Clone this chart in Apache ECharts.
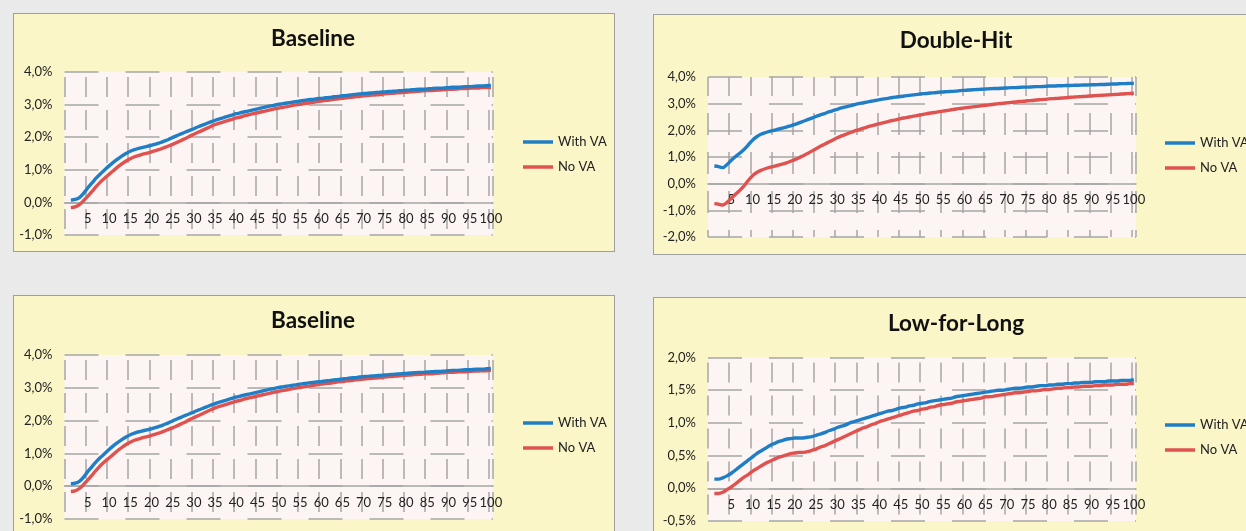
<!DOCTYPE html>
<html>
<head>
<meta charset="utf-8">
<script src="https://cdn.jsdelivr.net/npm/echarts/dist/echarts.min.js"></script>
<style>
html, body { margin:0; padding:0; width:1246px; height:531px; overflow:hidden; background:#EAEAEA; }
.panel { position:absolute; background:#FAF6C8; border:1px solid #9E9E9E; box-sizing:border-box; }
#chart { position:absolute; left:0; top:0; width:1246px; height:531px; }
</style>
</head>
<body>
<div class="panel" style="left:13px;top:13px;width:602px;height:239px"></div>
<div class="panel" style="left:653px;top:14px;width:640px;height:241px"></div>
<div class="panel" style="left:13px;top:295px;width:602px;height:260px"></div>
<div class="panel" style="left:653px;top:297px;width:640px;height:260px"></div>
<div id="chart"></div>
<script>
// ---- categories (projection years; year 0 has no value) ----
const categories = Array.from({length: 101}, (_, i) => String(i));
const seriesNames = ['With VA', 'No VA'];
const panelTitles = ['Baseline', 'Double-Hit', 'Baseline', 'Low-for-Long'];

// ---- Baseline (values in %) years 1..100 ----
const baselineWithVA = [
0.07,0.09,0.15,0.28,0.45,0.60,0.75,0.88,1.00,1.12,
1.23,1.33,1.42,1.50,1.57,1.62,1.66,1.69,1.72,1.75,
1.79,1.83,1.88,1.93,1.99,2.05,2.10,2.16,2.21,2.26,
2.32,2.37,2.42,2.47,2.52,2.56,2.60,2.64,2.68,2.72,
2.75,2.78,2.81,2.84,2.87,2.90,2.93,2.96,2.98,3.01,
3.03,3.05,3.07,3.09,3.11,3.13,3.15,3.16,3.18,3.19,
3.21,3.22,3.24,3.25,3.27,3.28,3.30,3.31,3.33,3.34,
3.35,3.36,3.37,3.38,3.39,3.40,3.41,3.42,3.43,3.44,
3.45,3.46,3.47,3.47,3.48,3.49,3.50,3.50,3.51,3.52,
3.53,3.53,3.54,3.55,3.55,3.56,3.57,3.57,3.58,3.59];
const baselineNoVA = [
-0.16,-0.14,-0.07,0.05,0.19,0.34,0.49,0.63,0.75,0.86,
0.97,1.08,1.18,1.27,1.34,1.40,1.44,1.48,1.51,1.55,
1.59,1.63,1.68,1.73,1.78,1.84,1.90,1.96,2.03,2.09,
2.15,2.21,2.27,2.33,2.39,2.43,2.47,2.51,2.55,2.59,
2.62,2.66,2.69,2.72,2.75,2.78,2.81,2.84,2.87,2.89,
2.92,2.94,2.97,2.99,3.01,3.03,3.05,3.07,3.09,3.11,
3.13,3.14,3.16,3.18,3.19,3.21,3.22,3.24,3.25,3.27,
3.28,3.29,3.30,3.31,3.33,3.34,3.35,3.36,3.37,3.38,
3.39,3.40,3.41,3.42,3.43,3.43,3.44,3.45,3.46,3.47,
3.47,3.48,3.49,3.49,3.50,3.51,3.51,3.52,3.52,3.53];

// ---- Double-Hit ----
const doubleHitWithVA = [
0.66,0.64,0.60,0.72,0.88,1.02,1.14,1.28,1.45,1.63,
1.76,1.85,1.91,1.96,2.00,2.04,2.08,2.12,2.17,2.22,
2.28,2.34,2.40,2.46,2.52,2.58,2.63,2.69,2.74,2.79,
2.84,2.88,2.92,2.96,3.00,3.03,3.06,3.09,3.12,3.15,
3.18,3.20,3.23,3.25,3.27,3.29,3.31,3.33,3.35,3.37,
3.38,3.40,3.41,3.43,3.44,3.45,3.46,3.47,3.49,3.50,
3.51,3.52,3.53,3.54,3.55,3.56,3.57,3.57,3.58,3.59,
3.60,3.60,3.61,3.62,3.62,3.63,3.64,3.64,3.65,3.66,
3.66,3.67,3.67,3.68,3.68,3.69,3.69,3.70,3.70,3.71,
3.71,3.72,3.72,3.73,3.74,3.74,3.75,3.75,3.76,3.76];
const doubleHitNoVA = [
-0.75,-0.77,-0.80,-0.70,-0.55,-0.40,-0.25,-0.08,0.12,0.30,
0.42,0.50,0.56,0.61,0.65,0.69,0.73,0.78,0.84,0.90,
0.97,1.05,1.13,1.22,1.31,1.40,1.48,1.56,1.64,1.72,
1.79,1.85,1.91,1.97,2.02,2.07,2.12,2.17,2.21,2.25,
2.29,2.33,2.37,2.40,2.44,2.47,2.50,2.53,2.56,2.59,
2.62,2.65,2.67,2.70,2.72,2.75,2.77,2.80,2.82,2.84,
2.86,2.88,2.90,2.92,2.94,2.96,2.98,3.00,3.01,3.03,
3.05,3.06,3.08,3.09,3.11,3.12,3.14,3.15,3.16,3.18,
3.19,3.20,3.21,3.22,3.24,3.25,3.26,3.27,3.28,3.29,
3.30,3.31,3.32,3.33,3.34,3.35,3.36,3.37,3.38,3.39];

// ---- Low-for-Long ----
const lowForLongWithVA = [
0.14,0.14,0.16,0.19,0.23,0.28,0.33,0.38,0.43,0.48,
0.53,0.57,0.61,0.65,0.68,0.71,0.73,0.75,0.76,0.77,
0.77,0.77,0.78,0.79,0.81,0.83,0.85,0.88,0.90,0.93,
0.95,0.97,1.00,1.02,1.04,1.06,1.08,1.10,1.12,1.14,
1.16,1.18,1.19,1.21,1.23,1.24,1.26,1.27,1.29,1.30,
1.31,1.33,1.34,1.35,1.36,1.37,1.38,1.40,1.41,1.42,
1.43,1.44,1.45,1.46,1.47,1.48,1.49,1.50,1.50,1.51,
1.52,1.53,1.53,1.54,1.55,1.55,1.56,1.57,1.57,1.58,
1.58,1.59,1.59,1.60,1.60,1.61,1.61,1.62,1.62,1.62,
1.63,1.63,1.63,1.64,1.64,1.64,1.65,1.65,1.65,1.66];
const lowForLongNoVA = [
-0.08,-0.08,-0.06,-0.02,0.02,0.07,0.12,0.17,0.21,0.26,
0.30,0.34,0.38,0.41,0.44,0.47,0.49,0.51,0.53,0.54,
0.55,0.55,0.56,0.58,0.60,0.63,0.65,0.68,0.71,0.74,
0.77,0.80,0.83,0.86,0.89,0.92,0.94,0.97,0.99,1.02,
1.04,1.06,1.08,1.10,1.12,1.14,1.16,1.18,1.19,1.21,
1.22,1.24,1.25,1.27,1.28,1.29,1.30,1.32,1.33,1.34,
1.35,1.36,1.37,1.38,1.40,1.40,1.41,1.42,1.43,1.44,
1.45,1.46,1.46,1.47,1.48,1.49,1.49,1.50,1.51,1.51,
1.52,1.53,1.53,1.54,1.54,1.55,1.55,1.56,1.56,1.56,
1.57,1.57,1.58,1.58,1.58,1.59,1.59,1.59,1.60,1.60];

// ---- y-axis ranges per panel ----
const yMin = [-1, -2, -1, -0.5];
const yMax = [4, 4, 4, 2];
const yStep = [1, 1, 1, 0.5];
const panelData = [
  [baselineWithVA, baselineNoVA],
  [doubleHitWithVA, doubleHitNoVA],
  [baselineWithVA, baselineNoVA],
  [lowForLongWithVA, lowForLongNoVA]
];

// ---- layout / style ----
const FONT = 'Lato, "Open Sans", sans-serif';
const BLUE = '#1F7EC6', RED = '#E0524F';
const GRIDC = '#A7A7A7';
const grids = [
  {left: 64.5, top: 72,    width: 428.5, height: 163},
  {left: 708,  top: 77,    width: 428,   height: 160},
  {left: 64.5, top: 355,   width: 428.5, height: 164},
  {left: 708,  top: 357.5, width: 428,   height: 163.5}
];
// the category axis crosses the value axis at 0: shift it up from the grid bottom
const zeroOffset = grids.map((g, i) => -g.height * (0 - yMin[i]) / (yMax[i] - yMin[i]));
const titlePos = [{x: 313, y: 27}, {x: 956, y: 29}, {x: 313, y: 309}, {x: 956, y: 312}];
const legendPos = [{x: 523, y: 134}, {x: 1165, y: 135}, {x: 523, y: 415}, {x: 1165, y: 417}];
const vDash = [{type: [20, 13], off: 28}, {type: [22, 17], off: 3}, {type: [20, 13], off: 28}, {type: [20, 13], off: 28}];

const fmt = v => {
  const r = Math.round(v * 10) / 10;
  return (r === 0 ? 0 : r).toFixed(1).replace('.', ',') + '%';
};

const option = {
  animation: false,
  backgroundColor: 'transparent',
  title: panelTitles.map((t, i) => ({
    text: t, left: titlePos[i].x, top: titlePos[i].y, textAlign: 'center', padding: 0,
    textStyle: {fontFamily: FONT, fontWeight: 'bold', fontSize: 22.5, color: '#111'}
  })),
  legend: legendPos.map(p => ({
    data: seriesNames, orient: 'vertical', left: p.x, top: p.y, padding: 0,
    itemWidth: 30, itemHeight: 3.5, itemGap: 9, icon: 'rect', selectedMode: false,
    textStyle: {fontFamily: FONT, fontSize: 13, lineHeight: 16, color: '#222'}
  })),
  grid: grids.map(g => Object.assign({
    show: true, backgroundColor: '#FDF5F3', borderWidth: 0, containLabel: false, outerBoundsMode: 'none'
  }, g)),
  xAxis: grids.map((g, i) => ({
    type: 'category', gridIndex: i, data: categories, boundaryGap: true,
    position: 'bottom', offset: zeroOffset[i],
    axisLine: {show: true, onZero: false, lineStyle: {color: GRIDC, width: 1.5}},
    axisTick: {show: false},
    axisLabel: {
      interval: (idx) => idx > 0 && idx % 5 === 0,
      margin: 10, fontFamily: FONT, fontSize: 13, color: '#222'
    },
    splitLine: {
      show: true, interval: (idx) => idx % 5 === 0,
      lineStyle: {color: GRIDC, width: 1.5, type: vDash[i].type, dashOffset: vDash[i].off}
    }
  })),
  yAxis: grids.map((g, i) => ({
    type: 'value', gridIndex: i, min: yMin[i], max: yMax[i], interval: yStep[i],
    axisLine: {show: false}, axisTick: {show: false},
    axisLabel: {margin: 12, formatter: fmt, fontFamily: FONT, fontSize: 13, color: '#222'},
    splitLine: {show: true, lineStyle: {color: GRIDC, width: 1.5, type: [34, 27], dashOffset: 0}}
  })),
  series: []
};

panelData.forEach((pair, i) => {
  pair.forEach((vals, k) => {
    const c = k === 0 ? BLUE : RED;
    option.series.push({
      type: 'line', name: seriesNames[k], xAxisIndex: i, yAxisIndex: i,
      data: [null].concat(vals), showSymbol: false, symbol: 'none', smooth: 0.3,
      lineStyle: {color: c, width: 3.4}, itemStyle: {color: c}, z: 3 - k
    });
  });
});

const chart = echarts.init(document.getElementById('chart'), null, {renderer: 'canvas'});
chart.setOption(option);
</script>
</body>
</html>
